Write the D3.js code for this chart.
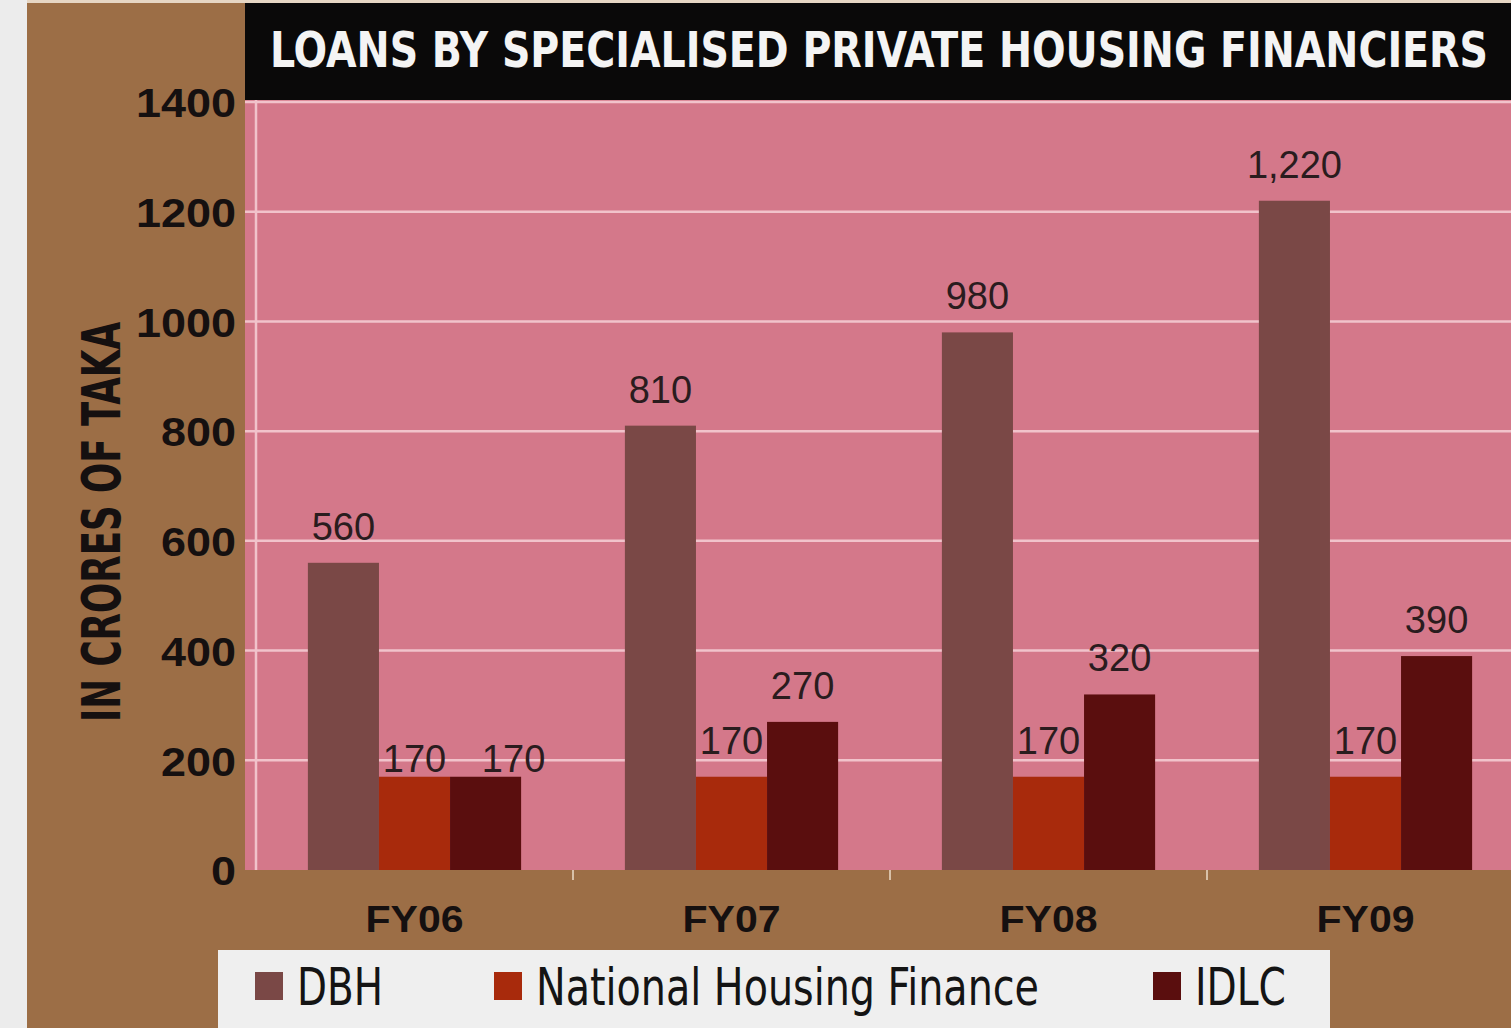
<!DOCTYPE html>
<html>
<head>
<meta charset="utf-8">
<script src="https://cdn.jsdelivr.net/npm/d3@7"></script>
<style>
  html, body { margin: 0; padding: 0; background: #ececec; }
  svg { display: block; }
</style>
</head>
<body>
<div id="chart"></div>
<script>
// DATA
const years = ["FY06", "FY07", "FY08", "FY09"];
const seriesNames = ["DBH", "National Housing Finance", "IDLC"];
const dbh = [560, 810, 980, 1220];
const nhf = [170, 170, 170, 170];
const idlc = [170, 270, 320, 390];
const valueLabels = [
    ["560", "810", "980", "1,220"],
    ["170", "170", "170", "170"],
    ["170", "270", "320", "390"]
];
const yTicks = [0, 200, 400, 600, 800, 1000, 1200, 1400];
const title = "LOANS BY SPECIALISED PRIVATE HOUSING FINANCIERS";
const yTitle = "IN CRORES OF TAKA";

// colours
const brown = "#9c6e46";
const pink = "#d4788a";
const gridCol = "#f1c3cb";
const colors = ["#7a4846", "#a82a0c", "#5a0e0e"];

const width = 1511, height = 1028;
const plotLeft = 245, axisX = 256, plotTop = 100, plotBottom = 870;
const narrow = "'Liberation Sans Narrow', 'DejaVu Sans Condensed', 'Liberation Sans', Arial, sans-serif";
const sans = "'Liberation Sans', Arial, Helvetica, sans-serif";

const rows = years.map((y, i) => ({ year: y, values: [dbh[i], nhf[i], idlc[i]], i }));

const svg = d3.select("#chart").append("svg")
    .attr("width", width)
    .attr("height", height)
    .attr("viewBox", [0, 0, width, height]);

// backgrounds
svg.append("rect").attr("x", 0).attr("y", 0).attr("width", width).attr("height", height).attr("fill", "#ececec");
svg.append("rect").attr("x", 27).attr("y", 0).attr("width", width - 27).attr("height", 3).attr("fill", "#e6d6c4");
svg.append("rect").attr("x", 27).attr("y", 3).attr("width", width - 27).attr("height", height - 3).attr("fill", brown);
svg.append("rect").attr("x", plotLeft).attr("y", plotTop).attr("width", width - plotLeft).attr("height", plotBottom - plotTop).attr("fill", pink);

// title bar (text drawn smaller then stretched tall, to mimic a condensed face)
svg.append("rect").attr("x", plotLeft).attr("y", 3).attr("width", width - plotLeft).attr("height", plotTop - 3).attr("fill", "#0a0909");
svg.append("g")
    .attr("transform", "translate(270,67) scale(1,1.22)")
    .append("text")
    .attr("x", 0).attr("y", 0)
    .attr("fill", "#f4f4f4")
    .attr("font-family", narrow)
    .attr("font-weight", "bold")
    .attr("font-size", 41)
    .attr("textLength", 1218)
    .attr("lengthAdjust", "spacingAndGlyphs")
    .text(title);

// scales
const y = d3.scaleLinear().domain([0, 1400]).range([plotBottom, plotTop + 2]);
const x0 = d3.scaleBand().domain(years).range([axisX, axisX + 4 * 317]).padding(0);
const x1 = d3.scaleBand().domain(d3.range(3)).range([0, x0.bandwidth()]).paddingInner(0).paddingOuter(0.73);

// gridlines
svg.append("g")
    .selectAll("line")
    .data(yTicks.filter(d => d > 0))
    .join("line")
    .attr("x1", plotLeft).attr("x2", width)
    .attr("y1", d => y(d)).attr("y2", d => y(d))
    .attr("stroke", gridCol)
    .attr("stroke-width", 2.5);

// y axis line
svg.append("line")
    .attr("x1", axisX).attr("x2", axisX)
    .attr("y1", plotTop).attr("y2", plotBottom)
    .attr("stroke", gridCol)
    .attr("stroke-width", 2.5);

// y axis tick labels
const yAxis = d3.axisLeft(y).tickValues(yTicks).tickSize(0).tickPadding(0).tickFormat(d3.format("d"));
const yG = svg.append("g").attr("transform", `translate(236,0)`).call(yAxis);
yG.select(".domain").remove();
yG.selectAll("text")
    .attr("fill", "#151010")
    .attr("font-family", sans)
    .attr("font-weight", "bold")
    .attr("font-size", 41)
    .attr("dy", "0.36em")
    .attr("textLength", d => String(d).length * 25)
    .attr("lengthAdjust", "spacingAndGlyphs");

// y title
svg.append("text")
    .attr("transform", `translate(120,522) rotate(-90)`)
    .attr("text-anchor", "middle")
    .attr("fill", "#151010")
    .attr("font-family", narrow)
    .attr("font-weight", "bold")
    .attr("font-size", 54)
    .attr("textLength", 400)
    .attr("lengthAdjust", "spacingAndGlyphs")
    .text(yTitle);

// bars
const groups = svg.append("g")
    .selectAll("g")
    .data(rows)
    .join("g")
    .attr("transform", d => `translate(${x0(d.year)},0)`);

groups.selectAll("rect")
    .data(d => d.values.map((v, k) => ({ v, k, i: d.i })))
    .join("rect")
    .attr("x", d => x1(d.k))
    .attr("y", d => y(d.v))
    .attr("width", x1.bandwidth())
    .attr("height", d => y(0) - y(d.v))
    .attr("fill", d => colors[d.k]);

// value labels (the FY06 pair sits lower, right on its bars, as in the original)
groups.selectAll("text")
    .data(d => d.values.map((v, k) => ({ v, k, i: d.i })))
    .join("text")
    .attr("x", d => x1(d.k) + x1.bandwidth() / 2 + (d.i === 0 && d.k === 2 ? 28 : 0))
    .attr("y", d => y(d.v) - (d.i === 0 && d.k > 0 ? 5 : 23))
    .attr("text-anchor", "middle")
    .attr("fill", "#2a1c1e")
    .attr("font-family", sans)
    .attr("font-size", 38)
    .text(d => valueLabels[d.k][d.i]);

// x axis
const xAxis = d3.axisBottom(x0).tickSize(0).tickPadding(0);
const xG = svg.append("g").attr("transform", `translate(0,${plotBottom})`).call(xAxis);
xG.select(".domain").remove();
xG.selectAll("text")
    .attr("y", 62)
    .attr("dy", 0)
    .attr("fill", "#151010")
    .attr("font-family", sans)
    .attr("font-weight", "bold")
    .attr("font-size", 37)
    .attr("textLength", 98)
    .attr("lengthAdjust", "spacingAndGlyphs");

// faint category separators under the plot
svg.append("g")
    .selectAll("line")
    .data(years.slice(1))
    .join("line")
    .attr("x1", d => x0(d)).attr("x2", d => x0(d))
    .attr("y1", plotBottom).attr("y2", plotBottom + 10)
    .attr("stroke", "#d8c0a8")
    .attr("stroke-width", 2);

// legend
const legend = svg.append("g");
legend.append("rect")
    .attr("x", 218).attr("y", 950)
    .attr("width", 1112).attr("height", 78)
    .attr("fill", "#efefef");

const legendX = [255, 494, 1153];
const legendW = [86, 503, 91];
const items = legend.selectAll("g")
    .data(seriesNames)
    .join("g")
    .attr("transform", (d, k) => `translate(${legendX[k]},0)`);
items.append("rect")
    .attr("x", 0).attr("y", 972)
    .attr("width", 28).attr("height", 28)
    .attr("fill", (d, k) => colors[k]);
items.append("text")
    .attr("x", 42).attr("y", 1005)
    .attr("fill", "#141414")
    .attr("font-family", narrow)
    .attr("font-size", 52)
    .attr("textLength", (d, k) => legendW[k])
    .attr("lengthAdjust", "spacingAndGlyphs")
    .text(d => d);
</script>
</body>
</html>
